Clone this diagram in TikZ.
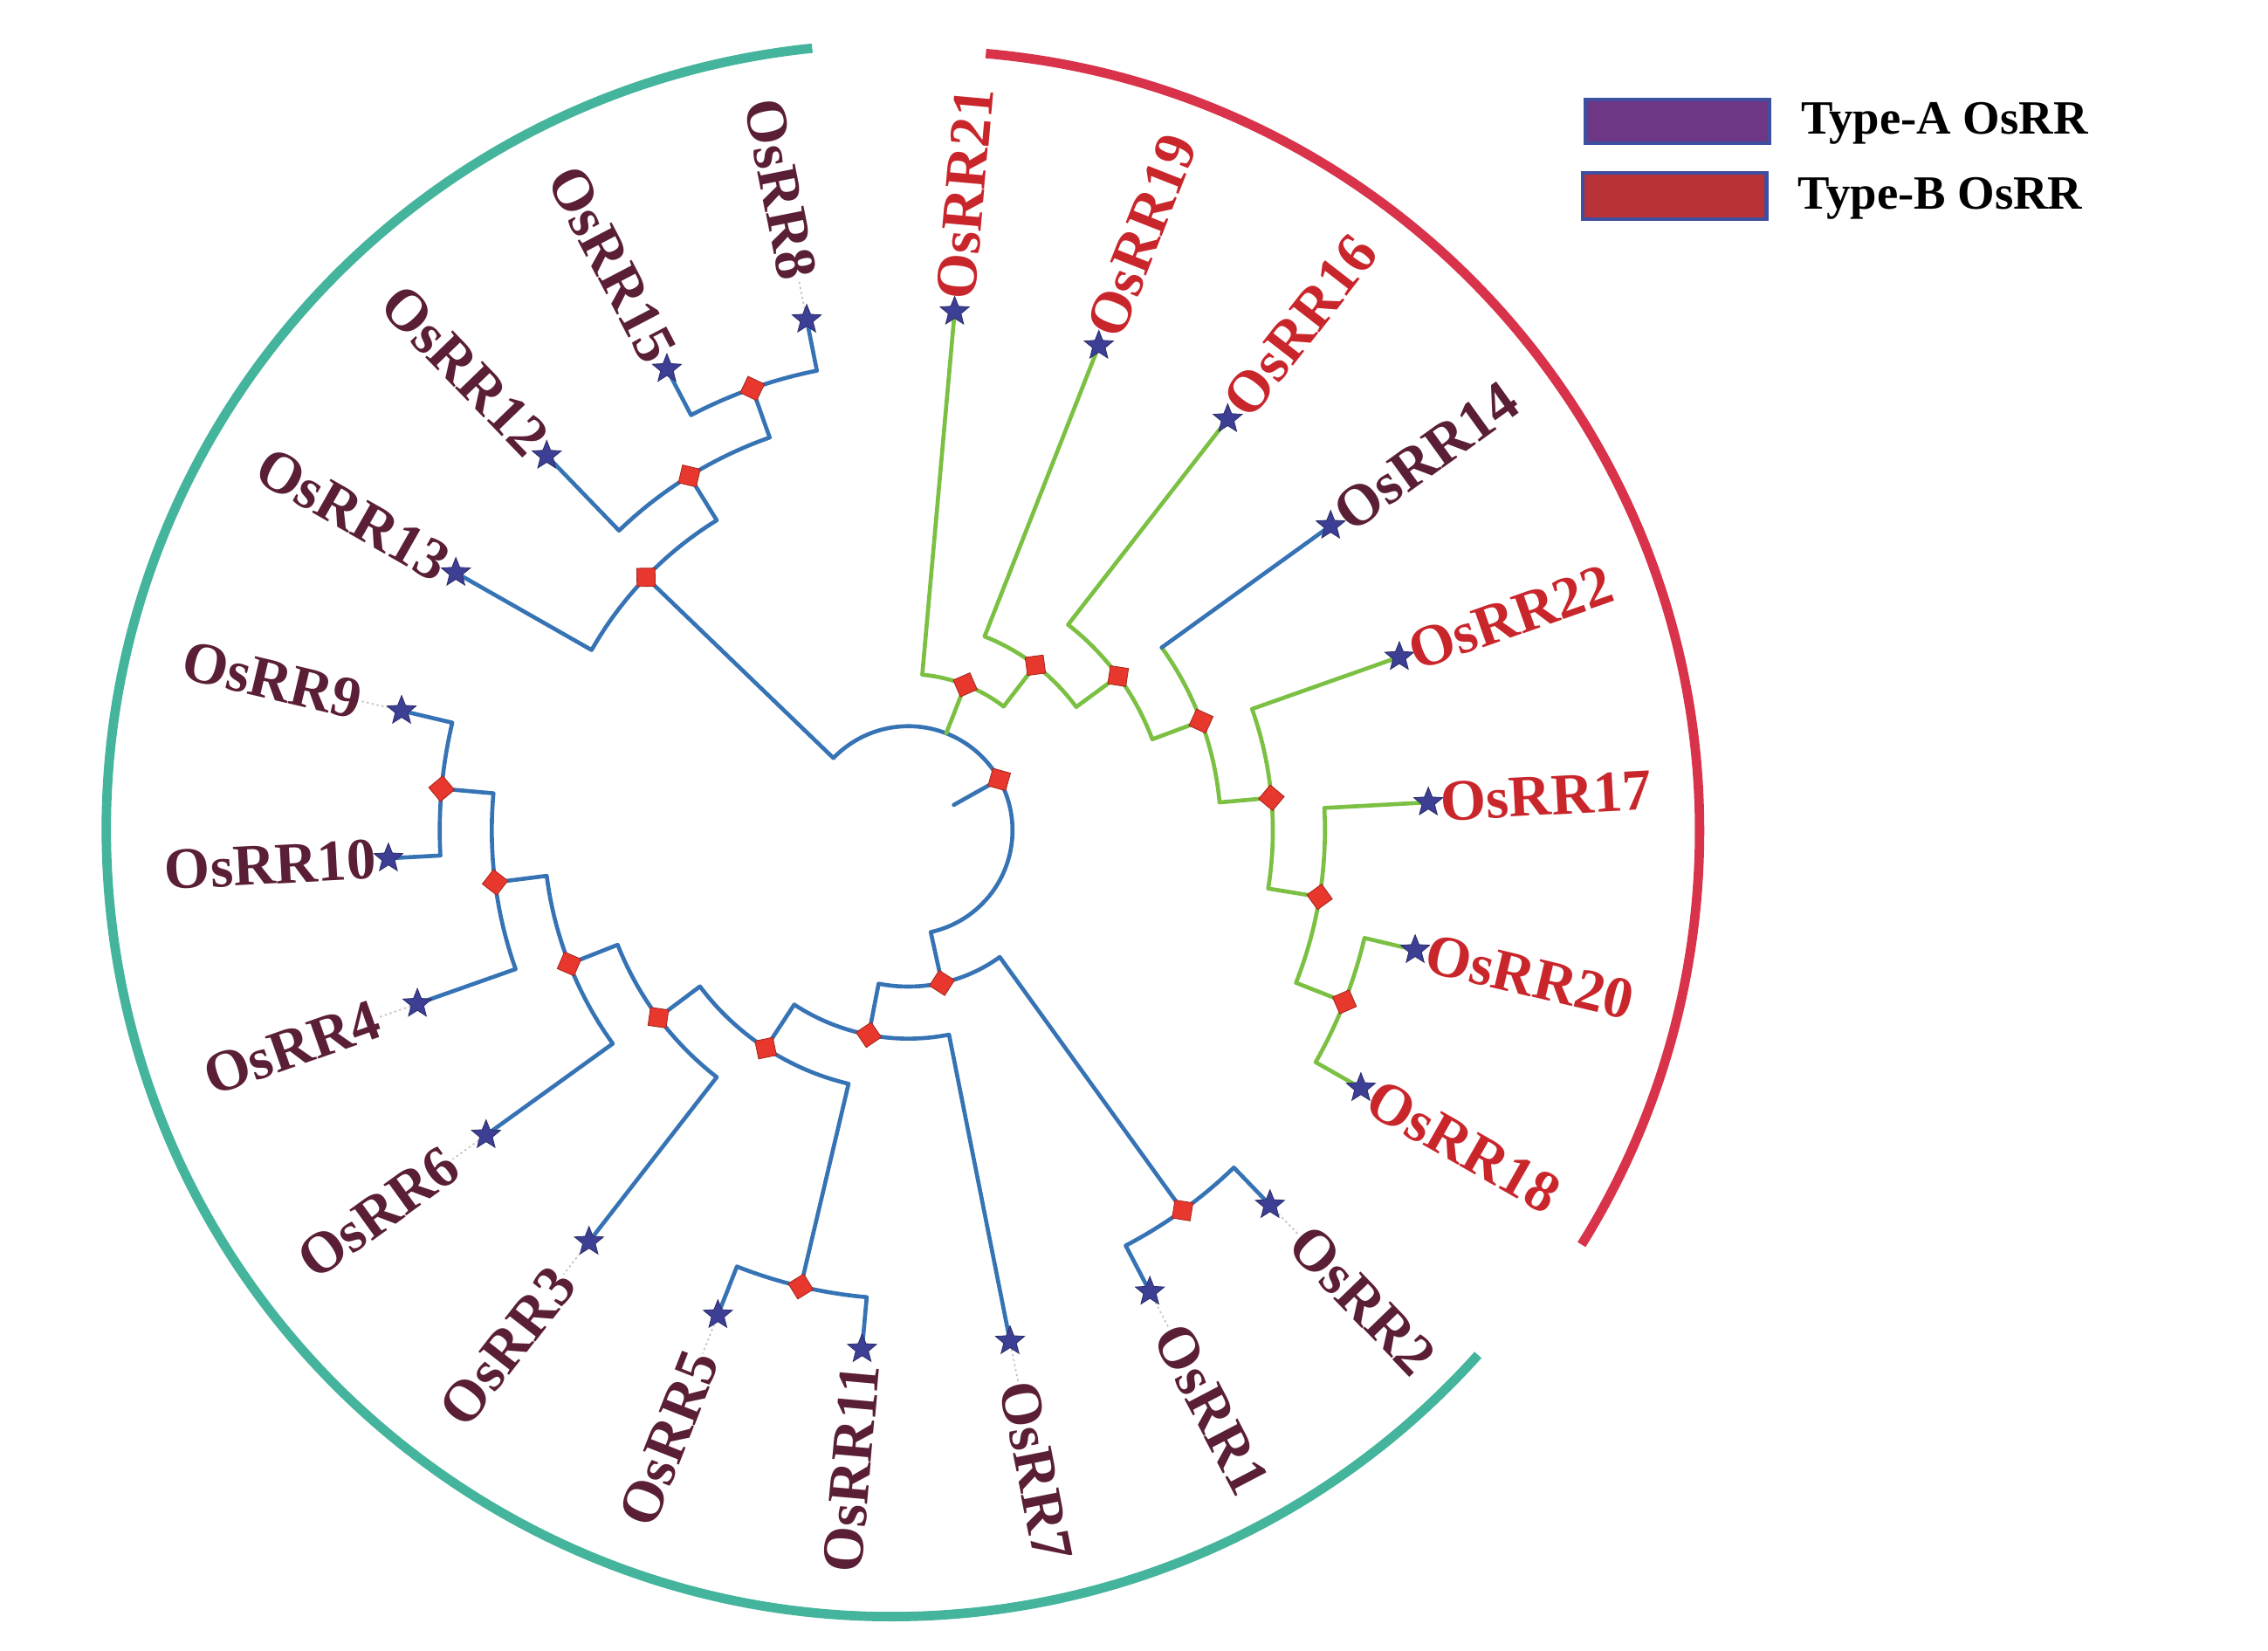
\documentclass[tikz,border=0pt]{standalone}
\usepackage{fontspec}
\setmainfont{Liberation Serif}
\usetikzlibrary{shapes.geometric,backgrounds}
\definecolor{treeblue}{HTML}{3673B5}
\definecolor{treegreen}{HTML}{7BC043}
\definecolor{starblue}{HTML}{3D3F95}
\definecolor{nodered}{HTML}{E8372C}
\definecolor{labmaroon}{HTML}{5A1E36}
\definecolor{labred}{HTML}{C9262C}
\definecolor{arcteal}{HTML}{45B49C}
\definecolor{arcred}{HTML}{D8334A}
\definecolor{legpurple}{HTML}{6E3785}
\definecolor{legred}{HTML}{B93237}
\definecolor{legborder}{HTML}{3F4FA0}
\newcommand\lblfont{\bfseries\fontsize{40.5pt}{43pt}\selectfont}
\newcommand\legfont{\bfseries\fontsize{33pt}{36pt}\selectfont}
\tikzset{
  bl/.style={draw=treeblue, line width=2.8pt, line cap=round, line join=round},
  gr/.style={draw=treegreen, line width=2.8pt, line cap=round, line join=round},
  leafstar/.style={star, star points=5, star point ratio=2.3, minimum size=21pt, inner sep=0pt, fill=starblue, draw=starblue!70!black, line width=0.5pt},
  dia/.style={diamond, aspect=1, minimum size=18pt, inner sep=0pt, fill=nodered, draw=nodered!70!black, line width=0.5pt},
  labA/.style={text=labmaroon, font=\lblfont, inner sep=0pt},
  labB/.style={text=labred, font=\lblfont, inner sep=0pt},
  leader/.style={draw=gray!45, line width=1.1pt, dash pattern=on 1.5pt off 2pt},
  outerarc/.style={line width=6.5pt},
  legbox/.style={draw=legborder, line width=2.5pt},
  legtext/.style={font=\legfont, text=black, inner sep=0pt, anchor=west}
}
\begin{document}
\begin{tikzpicture}
\useasboundingbox (0,0) rectangle (1568pt,1141pt);
\begin{scope}[shift={(628pt,567pt)}]
% ---------- internal nodes ----------
\node[dia, rotate=29.23] (root) at (29.23:72pt) {};
\coordinate (rootstub) at (29.23:36pt);
\node[dia, rotate=68.67] (D1) at (68.67:108pt) {};
\node[dia, rotate=52.43] (D2) at (52.43:144pt) {};
\node[dia, rotate=36.32] (D3) at (36.32:180pt) {};
\node[dia, rotate=20.47] (D4) at (20.47:216pt) {};
\node[dia, rotate=5.13] (D5) at (5.13:252pt) {};
\node[dia, rotate=-9.19] (D6) at (-9.19:288pt) {};
\node[dia, rotate=-21.465] (D7) at (-21.465:324pt) {};
\node[dia, rotate=136.04] (U1) at (136.04:252pt) {};
\node[dia, rotate=121.72] (U2) at (121.72:288pt) {};
\node[dia, rotate=109.45] (U3) at (109.45:324pt) {};
\node[dia, rotate=-77.59] (L1) at (-77.59:108pt) {};
\node[dia, rotate=-100.98] (L2) at (-100.98:144pt) {};
\node[dia, rotate=-123.23] (L3) at (-123.23:180pt) {};
\node[dia, rotate=-143.17] (L4) at (-143.17:216pt) {};
\node[dia, rotate=-158.51] (L5) at (-158.51:252pt) {};
\node[dia, rotate=-172.83] (L6) at (-172.83:288pt) {};
\node[dia, rotate=-185.10] (L7) at (-185.10:324pt) {};
\node[dia, rotate=-54.19] (R) at (-54.19:324pt) {};
\node[dia, rotate=-103.28] (L56) at (-103.28:324pt) {};
% ---------- leaves ----------
\node[leafstar] (s21) at (84.9:360pt) {};
\node[leafstar] (s19) at (68.54:360pt) {};
\node[leafstar] (s16) at (52.17:360pt) {};
\node[leafstar] (s14) at (35.81:360pt) {};
\node[leafstar] (s22) at (19.45:360pt) {};
\node[leafstar] (s17) at (3.08:360pt) {};
\node[leafstar] (s20) at (-13.28:360pt) {};
\node[leafstar] (s18) at (-29.65:360pt) {};
\node[leafstar] (s2) at (-46.01:360pt) {};
\node[leafstar] (s1) at (-62.37:360pt) {};
\node[leafstar] (s7) at (-78.74:360pt) {};
\node[leafstar] (s11) at (-95.10:360pt) {};
\node[leafstar] (s5) at (-111.46:360pt) {};
\node[leafstar] (s3) at (-127.83:360pt) {};
\node[leafstar] (s6) at (-144.19:360pt) {};
\node[leafstar] (s4) at (-160.55:360pt) {};
\node[leafstar] (s10) at (-176.92:360pt) {};
\node[leafstar] (s9) at (-193.28:360pt) {};
\node[leafstar] (s13) at (-209.65:360pt) {};
\node[leafstar] (s12) at (-226.01:360pt) {};
\node[leafstar] (s15) at (-242.37:360pt) {};
\node[leafstar] (s8) at (-258.74:360pt) {};
% ---------- labels ----------
\node[labB, rotate=84.9, anchor=east] (t21) at (84.9:515pt) {OsRR21};
\node[labB, rotate=68.54, anchor=east] (t19) at (68.54:515pt) {OsRR19};
\node[labB, rotate=52.17, anchor=east] (t16) at (52.17:515pt) {OsRR16};
\node[labA, rotate=35.81, anchor=east] (t14) at (35.81:515pt) {OsRR14};
\node[labB, rotate=19.45, anchor=east] (t22) at (19.45:515pt) {OsRR22};
\node[labB, rotate=3.08, anchor=east] (t17) at (3.08:515pt) {OsRR17};
\node[labB, rotate=-13.28, anchor=east] (t20) at (-13.28:515pt) {OsRR20};
\node[labB, rotate=-29.65, anchor=east] (t18) at (-29.65:515pt) {OsRR18};
\node[labA, rotate=-46.01, anchor=east] (t2) at (-46.01:515pt) {OsRR2};
\node[labA, rotate=-62.37, anchor=east] (t1) at (-62.37:515pt) {OsRR1};
\node[labA, rotate=-78.74, anchor=east] (t7) at (-78.74:515pt) {OsRR7};
\node[labA, rotate=84.90, anchor=west] (t11) at (-95.10:515pt) {OsRR11};
\node[labA, rotate=68.54, anchor=west] (t5) at (-111.46:515pt) {OsRR5};
\node[labA, rotate=52.17, anchor=west] (t3) at (-127.83:515pt) {OsRR3};
\node[labA, rotate=35.81, anchor=west] (t6) at (-144.19:515pt) {OsRR6};
\node[labA, rotate=19.45, anchor=west] (t4) at (-160.55:515pt) {OsRR4};
\node[labA, rotate=3.08, anchor=west] (t10) at (-176.92:515pt) {OsRR10};
\node[labA, rotate=-13.28, anchor=west] (t9) at (-193.28:515pt) {OsRR9};
\node[labA, rotate=-29.65, anchor=west] (t13) at (-209.65:515pt) {OsRR13};
\node[labA, rotate=-46.01, anchor=west] (t12) at (-226.01:515pt) {OsRR12};
\node[labA, rotate=-62.37, anchor=west] (t15) at (-242.37:515pt) {OsRR15};
\node[labA, rotate=-78.74, anchor=west] (t8) at (-258.74:515pt) {OsRR8};
% ---------- connectors (behind nodes) ----------
\begin{scope}[on background layer]
% dotted leaders from star to label (single-digit names)
\foreach \n in {2,1,7,5,3,6,4,9,8}
  \draw[leader] (s\n) -- (t\n);
% root
\draw[bl] (root.center) -- (rootstub);
\draw[bl] (root.center) arc[start angle=29.23, end angle=136.04, radius=72pt] -- (U1.center);
\draw[bl] (root.center) arc[start angle=29.23, end angle=-77.59, radius=72pt] -- (L1.center);
\path (root.center) arc[start angle=29.23, end angle=68.67, radius=72pt] coordinate (d1base);
\draw[gr] (d1base) -- (D1.center);
% green clade
\draw[gr] (D1.center) arc[start angle=68.67, end angle=84.9, radius=108pt] -- (s21.center);
\draw[gr] (D1.center) arc[start angle=68.67, end angle=52.43, radius=108pt] -- (D2.center);
\draw[gr] (D2.center) arc[start angle=52.43, end angle=68.54, radius=144pt] -- (s19.center);
\draw[gr] (D2.center) arc[start angle=52.43, end angle=36.32, radius=144pt] -- (D3.center);
\draw[gr] (D3.center) arc[start angle=36.32, end angle=52.17, radius=180pt] -- (s16.center);
\draw[gr] (D3.center) arc[start angle=36.32, end angle=20.47, radius=180pt] -- (D4.center);
\draw[gr] (D4.center) arc[start angle=20.47, end angle=35.81, radius=216pt] coordinate (s14base);
\draw[bl] (s14base) -- (s14.center);
\draw[gr] (D4.center) arc[start angle=20.47, end angle=5.13, radius=216pt] -- (D5.center);
\draw[gr] (D5.center) arc[start angle=5.13, end angle=19.45, radius=252pt] -- (s22.center);
\draw[gr] (D5.center) arc[start angle=5.13, end angle=-9.19, radius=252pt] -- (D6.center);
\draw[gr] (D6.center) arc[start angle=-9.19, end angle=3.08, radius=288pt] -- (s17.center);
\draw[gr] (D6.center) arc[start angle=-9.19, end angle=-21.465, radius=288pt] -- (D7.center);
\draw[gr] (D7.center) arc[start angle=-21.465, end angle=-13.28, radius=324pt] -- (s20.center);
\draw[gr] (D7.center) arc[start angle=-21.465, end angle=-29.65, radius=324pt] -- (s18.center);
% upper-left clade
\draw[bl] (U1.center) arc[start angle=136.04, end angle=150.35, radius=252pt] -- (s13.center);
\draw[bl] (U1.center) arc[start angle=136.04, end angle=121.72, radius=252pt] -- (U2.center);
\draw[bl] (U2.center) arc[start angle=121.72, end angle=133.99, radius=288pt] -- (s12.center);
\draw[bl] (U2.center) arc[start angle=121.72, end angle=109.45, radius=288pt] -- (U3.center);
\draw[bl] (U3.center) arc[start angle=109.45, end angle=117.63, radius=324pt] -- (s15.center);
\draw[bl] (U3.center) arc[start angle=109.45, end angle=101.26, radius=324pt] -- (s8.center);
% lower clade
\draw[bl] (L1.center) arc[start angle=-77.59, end angle=-54.19, radius=108pt] -- (R.center);
\draw[bl] (L1.center) arc[start angle=-77.59, end angle=-100.98, radius=108pt] -- (L2.center);
\draw[bl] (R.center) arc[start angle=-54.19, end angle=-62.37, radius=324pt] -- (s1.center);
\draw[bl] (R.center) arc[start angle=-54.19, end angle=-46.01, radius=324pt] -- (s2.center);
\draw[bl] (L2.center) arc[start angle=-100.98, end angle=-78.74, radius=144pt] -- (s7.center);
\draw[bl] (L2.center) arc[start angle=-100.98, end angle=-123.23, radius=144pt] -- (L3.center);
\draw[bl] (L3.center) arc[start angle=-123.23, end angle=-103.28, radius=180pt] -- (L56.center);
\draw[bl] (L3.center) arc[start angle=-123.23, end angle=-143.17, radius=180pt] -- (L4.center);
\draw[bl] (L56.center) arc[start angle=-103.28, end angle=-95.10, radius=324pt] -- (s11.center);
\draw[bl] (L56.center) arc[start angle=-103.28, end angle=-111.46, radius=324pt] -- (s5.center);
\draw[bl] (L4.center) arc[start angle=-143.17, end angle=-127.83, radius=216pt] -- (s3.center);
\draw[bl] (L4.center) arc[start angle=-143.17, end angle=-158.51, radius=216pt] -- (L5.center);
\draw[bl] (L5.center) arc[start angle=-158.51, end angle=-144.19, radius=252pt] -- (s6.center);
\draw[bl] (L5.center) arc[start angle=-158.51, end angle=-172.83, radius=252pt] -- (L6.center);
\draw[bl] (L6.center) arc[start angle=-172.83, end angle=-160.55, radius=288pt] -- (s4.center);
\draw[bl] (L6.center) arc[start angle=-172.83, end angle=-185.10, radius=288pt] -- (L7.center);
\draw[bl] (L7.center) arc[start angle=-185.10, end angle=-176.92, radius=324pt] -- (s10.center);
\draw[bl] (L7.center) arc[start angle=-185.10, end angle=-193.28, radius=324pt] -- (s9.center);
\end{scope}
% ---------- outer group arcs ----------
\draw[outerarc, draw=arcteal, shift={(-11pt,0pt)}] (95.86:543.5pt) arc[start angle=95.86, end angle=318.15, radius=543.5pt];
\draw[outerarc, draw=arcred, shift={(7pt,-1pt)}] (85.05:540pt) arc[start angle=85.05, end angle=-31.9, radius=540pt];
\end{scope}
% ---------- legend ----------
\node[legbox, fill=legpurple, minimum width=127pt, minimum height=30pt, inner sep=0pt, anchor=south west] (legA) at (1095pt,1041pt) {};
\node[legbox, fill=legred, minimum width=127pt, minimum height=32pt, inner sep=0pt, anchor=south west] (legB) at (1093pt,988pt) {};
\node[legtext] (legAtext) at (1245pt,1056pt) {Type-A OsRR};
\node[legtext] (legBtext) at (1243pt,1004pt) {Type-B OsRR};
\end{tikzpicture}
\end{document}
